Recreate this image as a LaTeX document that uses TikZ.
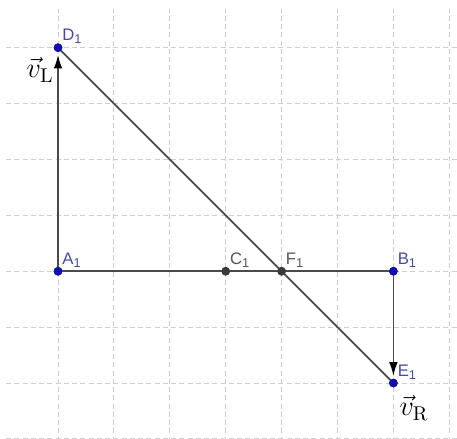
\documentclass[tikz,border=0pt]{standalone}
\usepackage{fontspec}
\setsansfont{Liberation Sans}
\usetikzlibrary{arrows.meta,calc}
\definecolor{gridc}{HTML}{CFCFCF}
\definecolor{linec}{HTML}{4A4A4A}
\definecolor{ptblue}{HTML}{1010B0}
\definecolor{lblblue}{HTML}{4848A8}
\definecolor{ptgray}{HTML}{3A3A3A}
\definecolor{lblgray}{HTML}{555555}
\tikzset{
  gridline/.style={draw=gridc, line width=0.5pt, dash pattern=on 2.6pt off 1.6pt},
  segline/.style={draw=linec, line width=0.9pt},
  vecline/.style={draw=linec, line width=0.9pt, -{Latex[length=7pt,width=4.4pt,color=black]}, shorten >=1.2pt},
  bluept/.style={circle, fill=ptblue, inner sep=0pt, minimum size=4.4pt},
  graypt/.style={circle, fill=ptgray, inner sep=0pt, minimum size=4.4pt},
  bluelbl/.style={anchor=south west, inner sep=0.6pt, text=lblblue, font=\sffamily\fontsize{8.5}{9}\selectfont},
  graylbl/.style={anchor=south west, inner sep=0.6pt, text=lblgray, font=\sffamily\fontsize{8.5}{9}\selectfont},
  veclbl/.style={inner sep=0pt, font=\fontsize{14.5}{16}\selectfont}
}
\newcommand{\lblsub}[1]{\raisebox{-0.35ex}{\fontsize{6.5}{7}\selectfont #1}}
\begin{document}
\begin{tikzpicture}[x=1cm,y=1cm]
\useasboundingbox (-1.038,-3.0) rectangle (7.138,4.853);
% grid
\foreach \y in {-3,...,4} {\draw[gridline] (-0.93,\y) -- (7.2,\y);}
\foreach \x in {0,...,7} {\draw[gridline] (\x,-3.05) -- (\x,4.69);}
% points
\node[bluept] (A) at (0,0) {};
\node[bluept] (B) at (6,0) {};
\node[graypt] (C) at (3,0) {};
\node[bluept] (D) at (0,4) {};
\node[bluept] (E) at (6,-2) {};
\node[graypt] (F) at (4,0) {};
% lines
\draw[segline] (A.center) -- (B.center);
\draw[segline] (D.center) -- (E.center);
\draw[vecline] (A.center) -- (D);
\draw[vecline] (B.center) -- (E);
% redraw points on top
\node[bluept] at (A) {};
\node[bluept] at (B) {};
\node[graypt] at (C) {};
\node[bluept] at (D) {};
\node[bluept] at (E) {};
\node[graypt] at (F) {};
% labels
\node[bluelbl] (lA) at ($(A)+(0.05,0.04)$) {A\lblsub{1}};
\node[bluelbl] (lB) at ($(B)+(0.05,0.04)$) {B\lblsub{1}};
\node[graylbl] (lC) at ($(C)+(0.05,0.04)$) {C\lblsub{1}};
\node[graylbl] (lF) at ($(F)+(0.05,0.04)$) {F\lblsub{1}};
\node[bluelbl] (lD) at ($(D)+(0.05,0.04)$) {D\lblsub{1}};
\node[bluelbl] (lE) at ($(E)+(0.05,0.04)$) {E\lblsub{1}};
\node[veclbl] (vL) at (-0.32,3.6) {$\vec{v}_{\mathrm{L}}$};
\node[veclbl] (vR) at (6.37,-2.45) {$\vec{v}_{\mathrm{R}}$};
\end{tikzpicture}
\end{document}
